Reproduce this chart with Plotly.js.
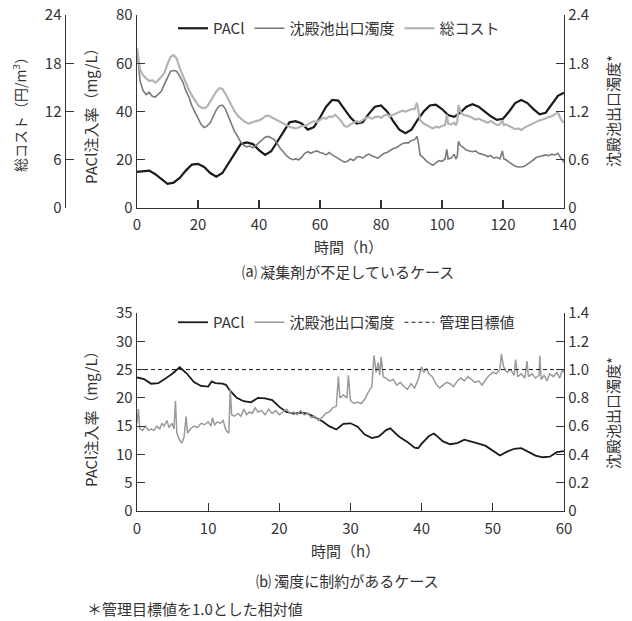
<!DOCTYPE html>
<html>
<head>
<meta charset="utf-8">
<script src="https://cdn.plot.ly/plotly-3.0.1.min.js"></script>
<style>
html,body{margin:0;padding:0;background:#fff;}
#chart{width:632px;height:621px;}
</style>
</head>
<body>
<div id="chart"></div>
<script>
// ---------- (a) 凝集剤が不足しているケース ----------
const tPaclA = [0,2,4,6,8,10,12,14,16,18,20,22,24,26,28,30,32,34,36,38,40,42,44,46,48,50,52,54,56,58,60,62,64,66,68,70,72,74,76,78,80,82,84,86,88,90,92,94,96,98,100,102,104,106,108,110,112,114,116,118,120,122,124,126,128,130,132,134,136,138,140];
const paclA = [15,15.2,15.5,14,12,10,10.5,12.5,15.5,18,18.3,17,14.5,13,14.5,18.5,23,26.5,27.2,26.5,24,22,23.5,27.5,32,35.5,36,35,32.5,33.5,37.5,42,44.8,44.5,41,37.5,35,35.5,39,42,42.5,40,36,32.5,31,32.5,36.5,40,42.5,42.8,41,38.5,37.8,39.5,42,43,42,40,38,36.5,37,40,43.5,44.8,43.5,41,38.8,39.5,43,46.5,47.8];

const tNoisyA = [0,0.5,1,2,3,4,5,6,7,8,9,10,11,12,13,14,15,16,17,18,19,20,21,22,23,24,25,26,27,28,29,30,31,32,33,34,35,36,37,38,39,40,41,42,43,44,45,46,47,48,49,50,51,52,53,54,55,56,57,58,59,60,61,62,63,64,65,66,67,68,69,70,71,72,73,74,75,76,77,78,79,80,81,82,83,84,85,86,87,88,89,90,91,91.8,92.3,92.8,93.5,94,95,96,97,98,99,100,101,101.6,102,103,104,104.5,105,105.4,106,107,108,109,110,111,112,113,114,115,116,117,118,119,119.8,120.3,121,122,123,124,125,126,127,128,129,130,131,132,133,134,135,136,137,138,139,140];
const turbA = [1.98,1.74,1.58,1.46,1.41,1.44,1.39,1.38,1.42,1.45,1.54,1.63,1.70,1.71,1.70,1.64,1.57,1.46,1.38,1.27,1.19,1.10,1.04,1.00,1.02,1.06,1.14,1.22,1.27,1.28,1.23,1.14,1.05,0.95,0.89,0.82,0.78,0.76,0.77,0.75,0.78,0.81,0.85,0.88,0.89,0.87,0.85,0.80,0.74,0.70,0.65,0.62,0.60,0.61,0.60,0.63,0.68,0.70,0.68,0.70,0.71,0.69,0.68,0.66,0.69,0.66,0.64,0.62,0.60,0.57,0.58,0.61,0.59,0.63,0.64,0.62,0.65,0.67,0.65,0.63,0.62,0.65,0.68,0.69,0.72,0.74,0.75,0.78,0.80,0.81,0.81,0.84,0.85,0.89,0.80,0.66,0.64,0.62,0.58,0.55,0.53,0.56,0.59,0.58,0.61,0.73,0.61,0.62,0.67,0.61,0.64,0.83,0.78,0.75,0.72,0.71,0.70,0.71,0.68,0.67,0.66,0.64,0.65,0.62,0.63,0.61,0.71,0.61,0.60,0.57,0.54,0.52,0.51,0.51,0.52,0.54,0.57,0.60,0.63,0.64,0.65,0.66,0.65,0.67,0.66,0.68,0.62,0.57];
const costA = [19.9,18.4,17.2,16.5,16.1,15.8,15.9,15.6,15.9,16.3,16.8,17.9,18.8,19.0,18.6,17.4,16.5,15.5,14.7,14.0,13.4,12.8,12.5,12.4,12.6,13.2,13.9,14.5,14.9,14.8,14.2,13.5,12.7,12.0,11.5,11.1,10.8,10.6,10.5,10.7,10.8,10.9,11.1,11.4,11.5,11.3,11.0,10.8,10.6,10.4,10.3,10.1,10.0,9.9,10.0,10.2,10.2,10.4,10.6,10.8,10.7,11.0,11.2,11.1,11.4,11.3,11.6,11.2,10.8,10.2,10.1,10.4,10.6,10.8,10.7,11.0,11.2,11.3,11.1,11.3,11.4,11.2,11.5,11.6,11.4,11.6,11.8,11.9,12.1,12.0,12.2,12.3,12.3,13.1,12.0,10.9,10.7,10.5,10.3,10.1,9.9,10.1,10.0,10.2,10.3,11.6,10.5,10.4,10.6,10.3,10.7,12.8,12.0,11.6,11.5,11.4,11.2,11.0,11.1,10.9,10.7,10.6,10.8,10.5,10.3,10.4,10.9,10.3,10.4,10.2,10.0,9.8,9.9,9.7,10.0,10.2,10.3,10.5,10.7,10.9,11.0,11.2,11.3,11.4,11.6,11.9,11.0,10.6];

// ---------- (b) 濁度に制約があるケース ----------
const tPaclB = [0,1,2,3,4,5,6,7,8,9,10,10.5,11,12,12.5,13,14,15,16,17,18,19,20,21,22,23,24,25,26,27,28,29,30,31,32,33,34,35,35.6,36.5,37,38,39,39.5,40,41,41.7,42,43,44,45,46,47,48,49,50,51,52,53,54,55,56,57,58,59,60];
const paclB = [23.6,23.3,22.5,22.6,23.4,24.3,25.4,24.3,22.8,22.1,22.0,22.9,22.6,22.5,22.3,21.4,20.0,19.4,19.2,20.0,19.9,19.6,18.4,17.5,17.2,17.4,17.2,16.5,15.9,15.0,14.4,15.4,15.5,14.9,13.5,12.9,13.2,14.3,14.6,13.5,13.0,12.2,11.2,11.1,11.9,13.2,13.7,13.4,12.3,11.8,12.0,12.6,12.3,11.9,11.5,10.6,9.8,10.5,11.0,11.1,10.5,9.8,9.5,9.6,10.4,10.6];
const tTurbB = [0,0.2,0.4,0.8,1.2,1.6,2,2.4,2.8,3.2,3.5,3.8,4.2,4.5,4.9,5.2,5.4,5.6,6.0,6.3,6.6,6.9,7.1,7.5,8,8.5,9,9.5,10,10.4,10.6,10.9,11.3,11.7,12.1,12.5,12.9,13.1,13.3,13.7,14.2,14.6,15,15.4,15.8,16.2,16.6,17,17.5,18,18.5,19,19.5,20,20.5,21,21.5,22,22.5,23,23.5,24,24.5,25,25.5,26,26.5,27,27.5,28,28.3,28.5,29,29.5,29.7,30,30.5,31,31.5,32,32.5,33,33.3,33.6,33.9,34.1,34.3,34.6,35,35.5,36,36.5,37,37.5,38,38.5,39,39.5,40,40.3,40.7,41,41.5,42,42.5,43,43.5,44,44.5,45,45.5,46,46.5,47,47.5,48,48.5,49,49.5,50,50.5,51,51.2,51.5,52,52.5,53,53.2,53.5,54,54.5,54.8,55,55.5,56,56.5,56.6,56.8,57.2,57.6,58,58.5,59,59.4,59.8,60];
const turbB = [0.62,0.72,0.58,0.57,0.60,0.57,0.58,0.57,0.60,0.58,0.62,0.60,0.64,0.59,0.62,0.58,0.78,0.55,0.50,0.48,0.52,0.67,0.55,0.58,0.60,0.59,0.62,0.61,0.63,0.60,0.66,0.61,0.63,0.62,0.64,0.57,0.55,0.86,0.68,0.67,0.69,0.67,0.72,0.68,0.70,0.69,0.73,0.70,0.71,0.68,0.72,0.69,0.71,0.68,0.70,0.72,0.69,0.70,0.68,0.71,0.68,0.69,0.66,0.67,0.64,0.66,0.69,0.70,0.73,0.74,0.95,0.80,0.82,0.80,0.96,0.78,0.76,0.77,0.76,0.79,0.84,0.88,1.10,0.98,1.05,0.96,1.09,0.95,0.94,0.92,0.93,0.89,0.91,0.88,0.86,0.90,0.87,0.93,1.02,0.98,1.01,0.97,0.95,0.90,0.87,0.89,0.91,0.90,0.88,0.92,0.94,0.92,0.95,0.93,0.91,0.92,0.89,0.93,0.96,0.98,0.97,1.00,1.11,1.02,0.98,1.00,0.96,1.07,0.95,0.97,0.94,1.06,0.95,0.97,0.94,0.96,1.10,0.93,0.96,0.92,0.97,0.95,0.98,0.94,1.00,0.98];
const targetX = [0,60];
const targetY = [1.0,1.0];

// tick labels
const ticksXA = [0,20,40,60,80,100,120,140];
const ticksXB = [0,10,20,30,40,50,60];
const ticksRightB = [0,0.2,0.4,0.6,0.8,1.0,1.2,1.4];
const ticksRightBText = ['0','0.2','0.4','0.6','0.8','1.0','1.2','1.4'];

const FONT = '"Noto Sans CJK JP", "Noto Sans", sans-serif';
const AX = '#333';

const traces = [
  {x:tPaclA, y:paclA, xaxis:'x', yaxis:'y', name:'PACl', mode:'lines',
   line:{color:'#1a1a1a', width:2.2}, legend:'legend'},
  {x:tNoisyA, y:turbA, xaxis:'x', yaxis:'y2', name:'沈殿池出口濁度', mode:'lines',
   line:{color:'#7a7a7a', width:1.6}, legend:'legend'},
  {x:tNoisyA, y:costA, xaxis:'x', yaxis:'y3', name:'総コスト', mode:'lines',
   line:{color:'#b4b4b4', width:2.2}, legend:'legend'},
  {x:tPaclB, y:paclB, xaxis:'x2', yaxis:'y4', name:'PACl', mode:'lines',
   line:{color:'#1a1a1a', width:1.8}, legend:'legend2'},
  {x:tTurbB, y:turbB, xaxis:'x2', yaxis:'y5', name:'沈殿池出口濁度', mode:'lines',
   line:{color:'#9a9a9a', width:1.5}, legend:'legend2'},
  {x:targetX, y:targetY, xaxis:'x2', yaxis:'y5', name:'管理目標値', mode:'lines',
   line:{color:'#1a1a1a', width:1, dash:'4px,3px'}, legend:'legend2'}
];

const xDom = [137/632, 564/632];
const topDom = [1-208/621, 1-15/621];
const botDom = [1-511/621, 1-313/621];

function axBase(extra){
  return Object.assign({
    showgrid:false, zeroline:false, showline:true, linecolor:AX, linewidth:1.3,
    ticks:'inside', ticklen:8, tickwidth:1.2, tickcolor:AX,
    tickfont:{family:FONT, size:15, color:'#333'}, fixedrange:true
  }, extra);
}

const ann = (text, x, y, extra) => Object.assign({
  text:text, x:x, y:y, xref:'paper', yref:'paper', showarrow:false,
  font:{family:FONT, size:15, color:'#333'}, xanchor:'center', yanchor:'middle'
}, extra||{});

const legendBase = {orientation:'h', xanchor:'left', yanchor:'top',
  bgcolor:'rgba(0,0,0,0)', font:{family:FONT, size:15, color:'#333'}, itemwidth:30, tracegroupgap:0};

const layout = {
  width:632, height:621,
  margin:{l:0, r:0, t:0, b:0},
  paper_bgcolor:'#fff', plot_bgcolor:'rgba(0,0,0,0)',
  font:{family:FONT, color:'#333'},
  showlegend:true,
  xaxis: axBase({domain:xDom, anchor:'y', range:[0,140], tickvals:ticksXA, ticklabelstandoff:3}),
  yaxis: axBase({domain:topDom, anchor:'x', range:[0,80], dtick:20, tick0:0}),
  yaxis2: axBase({overlaying:'y', side:'right', anchor:'x', range:[0,2.4], dtick:0.6, tick0:0}),
  yaxis3: axBase({overlaying:'y', side:'left', anchor:'free', position:64.5/632, range:[0,24], dtick:6, tick0:0}),
  xaxis2: axBase({domain:xDom, anchor:'y4', range:[0,60], tickvals:ticksXB, ticklabelstandoff:4}),
  yaxis4: axBase({domain:botDom, anchor:'x2', range:[0,35], dtick:5, tick0:0}),
  yaxis5: axBase({overlaying:'y4', side:'right', anchor:'x2', range:[0,1.4], tickvals:ticksRightB, ticktext:ticksRightBText}),
  legend: Object.assign({x:173/632, y:1-12/621}, legendBase),
  legend2: Object.assign({x:173/632, y:1-306/621}, legendBase),
  annotations:[
    ann('総コスト（円/m<sup>3</sup>）', 19/632, 1-111/621, {textangle:-90, font:{family:FONT, size:14, color:'#333'}}),
    ann('PACl注入率（mg/L）', 90/632, 1-112/621, {textangle:-90}),
    ann('沈殿池出口濁度*', 612/632, 1-111/621, {textangle:-90}),
    ann('時間（h）', 349/632, 1-246/621),
    ann('⒜ 凝集剤が不足しているケース', 348/632, 1-272/621),
    ann('PACl注入率（mg/L）', 90/632, 1-415/621, {textangle:-90}),
    ann('沈殿池出口濁度*', 612/632, 1-413/621, {textangle:-90}),
    ann('時間（h）', 345/632, 1-550/621),
    ann('⒝ 濁度に制約があるケース', 347/632, 1-580/621),
    ann('＊管理目標値を1.0とした相対値', 85/632, 1-608/621, {xanchor:'left'})
  ]
};

Plotly.newPlot('chart', traces, layout, {displayModeBar:false, staticPlot:true});
</script>
</body>
</html>
